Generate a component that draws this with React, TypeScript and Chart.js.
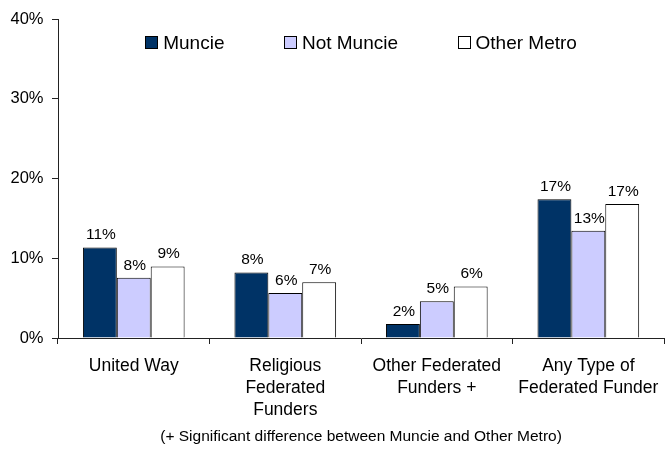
import React, { useEffect, useRef } from "react";
import { Chart, registerables } from "chart.js";

Chart.register(...registerables);

const categories: (string | string[])[] = [
  "United Way",
  ["Religious", "Federated", "Funders"],
  ["Other Federated", "Funders +"],
  ["Any Type of", "Federated Funder"],
];
const seriesNames = ["Muncie", "Not Muncie", "Other Metro"];
const muncie = [11.35, 8.2, 1.75, 17.4];
const notMuncie = [7.55, 5.65, 4.6, 13.45];
const otherMetro = [8.95, 7.0, 6.45, 16.8];
const yTicks = [0, 10, 20, 30, 40];
const footnote = "(+ Significant difference between Muncie and Other Metro)";

const FONT = "'Liberation Sans', Arial, sans-serif";
const colors = ["#003366", "#CCCCFF", "#FFFFFF"];

const valueLabels = {
  id: "valueLabels",
  afterDatasetsDraw(chart: any) {
    const ctx = chart.ctx;
    ctx.save();
    ctx.font = `15.5px ${FONT}`;
    ctx.fillStyle = "#000";
    ctx.textAlign = "center";
    ctx.textBaseline = "middle";
    chart.data.datasets.forEach((ds: any, i: number) => {
      const meta = chart.getDatasetMeta(i);
      meta.data.forEach((el: any, j: number) => {
        const v = ds.data[j];
        ctx.fillText(Math.round(v) + "%", el.x + 1, el.y - 12.5);
      });
    });
    ctx.restore();
  },
};

const topLegend = {
  id: "topLegend",
  afterDraw(chart: any) {
    const ctx = chart.ctx;
    const area = chart.chartArea;
    ctx.save();
    ctx.font = `19px ${FONT}`;
    const box = 13;
    const gapText = 5;
    const gapItem = 59.5;
    const items = chart.data.datasets.map((ds: any) => ({
      label: ds.label,
      color: ds.backgroundColor,
      w: box + gapText + ctx.measureText(ds.label).width,
    }));
    const total =
      items.reduce((s: number, it: any) => s + it.w, 0) + gapItem * (items.length - 1);
    let x = (area.left + area.right) / 2 - total / 2;
    const cy = 42.5;
    items.forEach((it: any) => {
      ctx.fillStyle = it.color;
      ctx.fillRect(Math.round(x) + 0.5, Math.round(cy - box / 2) + 0.5, box - 1, box - 1);
      ctx.strokeStyle = "#000";
      ctx.lineWidth = 1;
      ctx.strokeRect(Math.round(x) + 0.5, Math.round(cy - box / 2) + 0.5, box - 1, box - 1);
      ctx.fillStyle = "#000";
      ctx.textAlign = "left";
      ctx.textBaseline = "middle";
      ctx.fillText(it.label, x + box + gapText, cy + 1);
      x += it.w + gapItem;
    });
    ctx.restore();
  },
};

export default function App() {
  const ref = useRef<HTMLCanvasElement>(null);

  useEffect(() => {
    document.body.style.margin = "0";
    const canvas = ref.current;
    if (!canvas) return;
    Chart.defaults.font.family = FONT;
    const chart = new Chart(canvas, {
      type: "bar",
      data: {
        labels: categories as any,
        datasets: [muncie, notMuncie, otherMetro].map((d, i) => ({
          label: seriesNames[i],
          data: d,
          backgroundColor: colors[i],
          borderColor: "#000",
          borderWidth: 1,
          categoryPercentage: 0.671,
          barPercentage: 1,
        })),
      },
      options: {
        responsive: false,
        animation: false,
        devicePixelRatio: 1,
        layout: { padding: { top: 19, right: 1, left: 0, bottom: 0 } },
        plugins: {
          legend: { display: false },
          tooltip: { enabled: false },
          title: { display: false },
        },
        scales: {
          x: {
            type: "category",
            offset: true,
            grid: {
              display: true,
              offset: true,
              drawOnChartArea: false,
              drawTicks: true,
              tickLength: 6,
              color: "#222",
            },
            border: { display: true, color: "#222" },
            ticks: {
              color: "#000",
              font: { size: 17.5, lineHeight: 22 / 17.5 },
              padding: 11.5,
              maxRotation: 0,
              autoSkip: false,
            },
            title: {
              display: true,
              text: footnote,
              color: "#000",
              font: { size: 15.5, lineHeight: 1.2 },
              padding: { top: 0, bottom: 3 },
            },
            afterFit(s: any) {
              s.height = 111;
            },
          },
          y: {
            min: 0,
            max: 40,
            afterBuildTicks(s: any) {
              s.ticks = yTicks.map((v) => ({ value: v }));
            },
            grid: {
              display: true,
              drawOnChartArea: false,
              drawTicks: true,
              tickLength: 6,
              color: "#222",
            },
            border: { display: true, color: "#222" },
            ticks: {
              color: "#000",
              font: { size: 16.5 },
              padding: 8.5,
              callback: (v: any) => v + "%",
            },
            afterFit(s: any) {
              s.width = 58;
            },
          },
        },
      },
      plugins: [valueLabels, topLegend],
    });
    return () => chart.destroy();
  }, []);

  return (
    <div style={{ position: "absolute", left: 0, top: 0, width: 670, height: 449, background: "#fff" }}>
      <canvas ref={ref} width={670} height={449} />
    </div>
  );
}
